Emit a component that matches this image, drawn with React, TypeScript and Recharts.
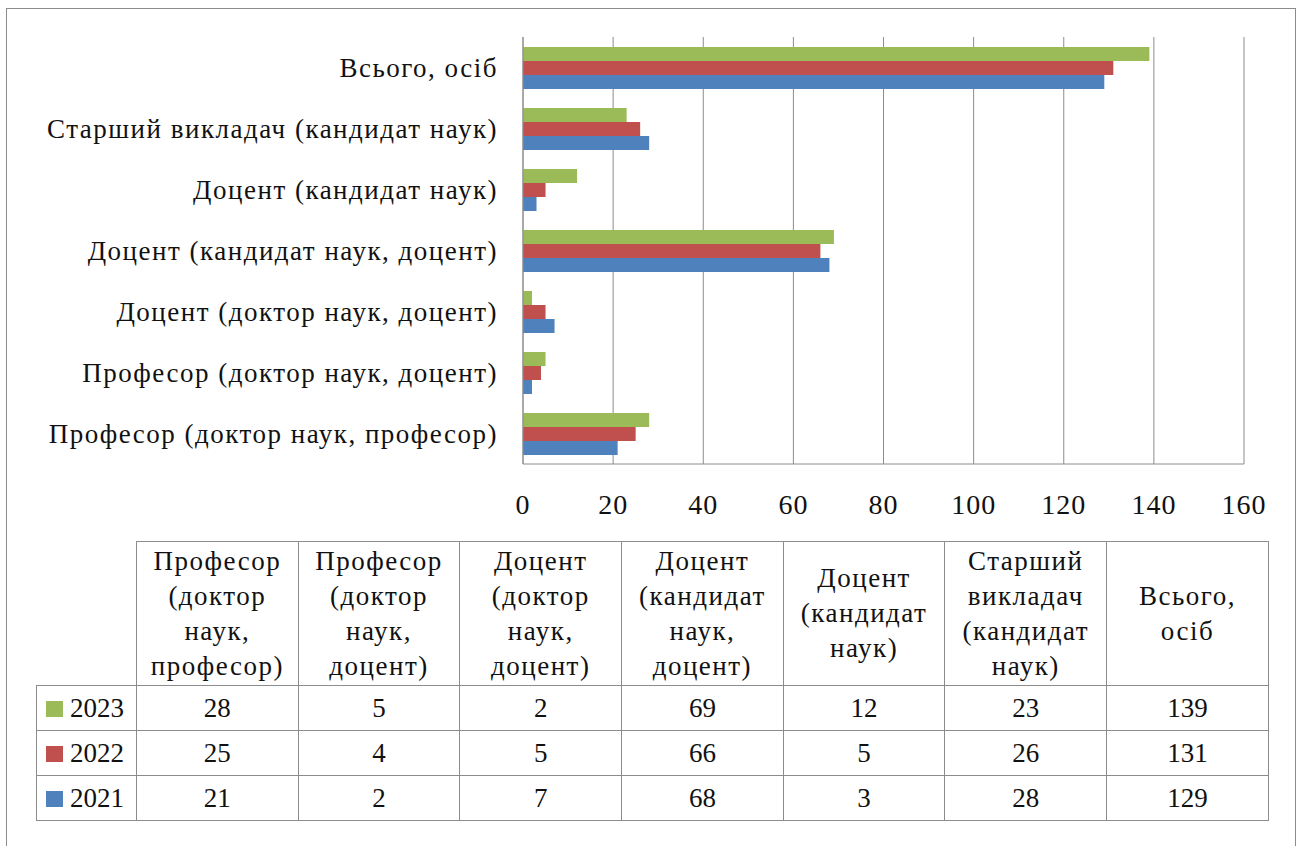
import { Bar, BarChart, CartesianGrid, XAxis, YAxis } from "recharts";

const categories = [
  "Професор (доктор наук, професор)",
  "Професор (доктор наук, доцент)",
  "Доцент (доктор наук, доцент)",
  "Доцент (кандидат наук, доцент)",
  "Доцент (кандидат наук)",
  "Старший викладач (кандидат наук)",
  "Всього, осіб",
];

const v2023 = [28, 5, 2, 69, 12, 23, 139];
const v2022 = [25, 4, 5, 66, 5, 26, 131];
const v2021 = [21, 2, 7, 68, 3, 28, 129];

const xTicks = [0, 20, 40, 60, 80, 100, 120, 140, 160];

const series = [
  { key: "y2023", label: "2023", color: "#9BBB59", values: v2023 },
  { key: "y2022", label: "2022", color: "#C0504D", values: v2022 },
  { key: "y2021", label: "2021", color: "#4F81BD", values: v2021 },
];

const data = categories.map((name, i) => ({
  name,
  y2023: v2023[i],
  y2022: v2022[i],
  y2021: v2021[i],
}));

const font = "'Liberation Serif', 'Times New Roman', serif";
const gray = "#8c8c8c";

const cell = {
  border: `1px solid ${gray}`,
  padding: 0,
  textAlign: "center" as const,
  fontSize: 27,
  lineHeight: "35px",
  color: "#111",
  fontFamily: font,
};

export default function App() {
  return (
    <div style={{ position: "absolute", left: 0, top: 0, width: 1297, height: 846, overflow: "hidden", background: "#fff", fontFamily: font }}>
      <div style={{ position: "absolute", left: 6, top: 8, width: 1290, height: 860, border: `1px solid ${gray}`, boxSizing: "border-box" }} />
      <div style={{ position: "absolute", left: 0, top: 0 }}>
        <BarChart
          layout="vertical"
          width={1297}
          height={530}
          data={data}
          margin={{ top: 37, right: 53, bottom: 0, left: 0 }}
          barGap={0}
          barCategoryGap="15%"
        >
          <CartesianGrid horizontal={false} stroke={gray} strokeWidth={1} />
          <XAxis
            type="number"
            domain={[0, 160]}
            ticks={xTicks}
            interval={0}
            height={66}
            tickLine={false}
            axisLine={{ stroke: gray }}
            tick={{ fill: "#111", fontSize: 28, fontFamily: font, letterSpacing: 1 }}
            tickMargin={24}
          />
          <YAxis
            type="category"
            dataKey="name"
            reversed
            width={523}
            interval={0}
            tickLine={false}
            axisLine={{ stroke: gray }}
            tick={{ fill: "#111", fontSize: 27, fontFamily: font, letterSpacing: 1.5 }}
            tickMargin={19}
          />
          {series.map((s) => (
            <Bar key={s.key} dataKey={s.key} fill={s.color} barSize={14} isAnimationActive={false} />
          ))}
        </BarChart>
      </div>
      <table
        style={{
          position: "absolute",
          left: 36,
          top: 541,
          borderCollapse: "collapse",
          tableLayout: "fixed",
          fontFamily: font,
        }}
      >
        <colgroup>
          <col style={{ width: 100 }} />
          {categories.map((c) => (
            <col key={c} style={{ width: 161.7 }} />
          ))}
        </colgroup>
        <tbody>
          <tr style={{ height: 144 }}>
            <td style={{ ...cell, borderTop: "none", borderLeft: "none", borderBottom: `1px solid ${gray}` }} />
            {categories.map((c) => (
              <td key={c} style={{ ...cell, letterSpacing: 1.5 }}>
                {c.split(" ").map((w, i) => (
                  <div key={i}>{w}</div>
                ))}
              </td>
            ))}
          </tr>
          {series.map((s) => (
            <tr key={s.key} style={{ height: 45 }}>
              <td style={{ ...cell, textAlign: "left", whiteSpace: "nowrap" }}>
                <span style={{ display: "inline-block", width: 17, height: 16, background: s.color, marginLeft: 9, marginRight: 7 }} />
                {s.label}
              </td>
              {s.values.map((v, i) => (
                <td key={i} style={cell}>{v}</td>
              ))}
            </tr>
          ))}
        </tbody>
      </table>
    </div>
  );
}
